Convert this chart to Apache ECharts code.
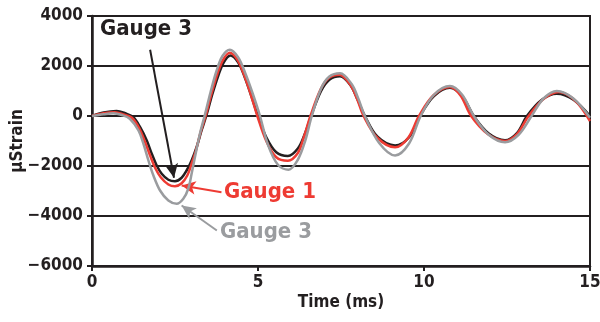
<!DOCTYPE html>
<html>
<head>
<meta charset="utf-8">
<script src="https://cdn.jsdelivr.net/npm/echarts@6/dist/echarts.min.js"></script>
<style>
html,body{margin:0;padding:0;background:#fff;}
#c{width:600px;height:322px;}
</style>
</head>
<body>
<div id="c"></div>
<script>
// ---- data (time in ms, strain in µStrain) ----
const xTicks = [0, 5, 10, 15];
const yTicks = [-6000, -4000, -2000, 0, 2000, 4000];

const blackT = [0, 0.35, 0.74, 1.0, 1.24, 1.45, 1.65, 1.8, 1.95, 2.1, 2.3, 2.5, 2.7, 2.85, 3.0, 3.15, 3.3, 3.45, 3.62, 3.8, 3.97, 4.17, 4.4, 4.6, 4.8, 5.0, 5.25, 5.55, 5.9, 6.2, 6.4, 6.6, 6.9, 7.15, 7.47, 7.8, 8.0, 8.22, 8.6, 9.13, 9.55, 9.88, 10.3, 10.78, 11.15, 11.5, 11.95, 12.44, 12.8, 13.1, 13.55, 14.0, 14.5, 15];
const blackV = [0, 140, 200, 110, -40, -450, -980, -1510, -1980, -2310, -2550, -2610, -2470, -2180, -1780, -1250, -580, 40, 850, 1600, 2150, 2420, 2150, 1550, 800, 0, -850, -1450, -1600, -1300, -750, 0, 1000, 1450, 1590, 1200, 650, 0, -830, -1180, -850, 0, 800, 1130, 800, 0, -700, -970, -680, 0, 650, 890, 650, 0];

const redT = [0, 0.35, 0.69, 0.95, 1.2, 1.43, 1.6, 1.75, 1.9, 2.07, 2.3, 2.5, 2.7, 2.87, 3.0, 3.13, 3.27, 3.43, 3.6, 3.78, 3.95, 4.15, 4.38, 4.58, 4.78, 4.98, 5.25, 5.55, 5.9, 6.2, 6.38, 6.58, 6.88, 7.13, 7.45, 7.78, 7.98, 8.18, 8.6, 9.13, 9.52, 9.85, 10.28, 10.78, 11.1, 11.42, 11.92, 12.44, 12.8, 13.15, 13.6, 14.05, 14.55, 15];
const redV = [0, 110, 150, 60, -70, -510, -1050, -1580, -2070, -2450, -2740, -2810, -2690, -2380, -1910, -1380, -650, 40, 900, 1700, 2250, 2530, 2250, 1650, 870, 0, -1000, -1650, -1790, -1480, -850, 0, 1050, 1520, 1650, 1250, 700, 0, -880, -1250, -880, 0, 820, 1160, 820, 0, -720, -1000, -720, 0, 680, 960, 620, -200];

const grayT = [0, 0.35, 0.64, 0.9, 1.14, 1.4, 1.55, 1.7, 1.85, 2.05, 2.3, 2.55, 2.75, 2.9, 3.0, 3.1, 3.25, 3.4, 3.57, 3.75, 3.93, 4.15, 4.4, 4.62, 4.84, 5.06, 5.3, 5.6, 5.92, 6.2, 6.42, 6.62, 6.9, 7.15, 7.47, 7.82, 8.02, 8.22, 8.65, 9.13, 9.55, 9.9, 10.3, 10.78, 11.15, 11.5, 11.95, 12.44, 12.85, 13.24, 13.6, 14.0, 14.5, 15];
const grayV = [0, 70, 110, 40, -110, -580, -1110, -1780, -2380, -2980, -3380, -3510, -3310, -2910, -2310, -1650, -710, 50, 950, 1800, 2400, 2650, 2350, 1700, 900, 0, -1150, -1950, -2150, -1750, -1000, 0, 1100, 1580, 1710, 1280, 700, 0, -1080, -1580, -1100, 0, 850, 1200, 850, 0, -750, -1050, -750, 0, 700, 1000, 700, -70];

const FONT = '"DejaVu Sans Condensed", "DejaVu Sans", sans-serif';
const INK = '#231f20';
const RED = '#ee3b33';
const GRAY = '#9a9c9f';

function pairs(t, v) { return t.map((x, i) => [x, v[i]]); }
function fmt(v) { return v < 0 ? '\u2212' + Math.abs(v) : String(v); }

const chart = echarts.init(document.getElementById('c'), null, {renderer: 'canvas'});

function arrow(color, from, to) {
  return {
    silent: true,
    symbol: ['none', 'arrow'],
    symbolSize: [10, 14],
    lineStyle: {color: color, width: 2, type: 'solid'},
    label: {show: false},
    emphasis: {disabled: true},
    data: [[{coord: from}, {coord: to}]]
  };
}

chart.setOption({
  animation: false,
  grid: {left: 92, right: 10, top: 16, bottom: 56, outerBoundsMode: 'none', containLabel: false,
    show: true, borderColor: INK, borderWidth: 2},
  xAxis: {
    type: 'value', min: 0, max: 15, interval: 5,
    name: 'Time (ms)', nameLocation: 'middle', nameGap: 28, nameMoveOverlap: false,
    nameTextStyle: {fontFamily: FONT, fontWeight: 'bold', fontSize: 17, color: INK},
    axisLine: {show: true, onZero: false, lineStyle: {color: INK, width: 2.5}},
    axisTick: {show: true, length: 5, lineStyle: {color: INK, width: 2}},
    axisLabel: {fontFamily: FONT, fontWeight: 'bold', fontSize: 17, color: INK, margin: 8,
      formatter: v => xTicks.includes(v) ? String(v) : ''},
    splitLine: {show: false}
  },
  yAxis: {
    type: 'value', min: -6000, max: 4000, interval: 2000,
    name: '\u03bcStrain', nameLocation: 'middle', nameGap: 66, nameMoveOverlap: false,
    nameTextStyle: {fontFamily: FONT, fontWeight: 'bold', fontSize: 17, color: INK},
    axisLine: {show: true, onZero: false, lineStyle: {color: INK, width: 2.5}},
    axisTick: {show: true, length: 5, lineStyle: {color: INK, width: 2}},
    axisLabel: {fontFamily: FONT, fontWeight: 'bold', fontSize: 17, color: INK, margin: 9,
      formatter: v => yTicks.includes(v) ? fmt(v) : ''},
    splitLine: {show: true, lineStyle: {color: INK, width: 2}}
  },
  series: [
    {name: 'Gauge 3 (black)', type: 'line', data: pairs(blackT, blackV), smooth: 0.35, showSymbol: false,
      lineStyle: {color: INK, width: 2.5}, z: 3,
      markLine: arrow(INK, [1.75, 2650], [2.47, -2470])},
    {name: 'Gauge 1', type: 'line', data: pairs(redT, redV), smooth: 0.35, showSymbol: false,
      lineStyle: {color: RED, width: 2.5}, z: 4,
      markLine: arrow(RED, [3.9, -3050], [2.7, -2780])},
    {name: 'Gauge 3', type: 'line', data: pairs(grayT, grayV), smooth: 0.35, showSymbol: false,
      lineStyle: {color: GRAY, width: 2.5}, z: 5,
      markLine: arrow(GRAY, [3.76, -4580], [2.7, -3580])}
  ],
  graphic: [
    {type: 'text', left: 100, top: 18, z: 10, style: {text: 'Gauge 3', fill: INK, font: 'bold 22px ' + FONT}},
    {type: 'text', left: 224, top: 181, z: 10, style: {text: 'Gauge 1', fill: RED, font: 'bold 22px ' + FONT}},
    {type: 'text', left: 220, top: 221, z: 10, style: {text: 'Gauge 3', fill: GRAY, font: 'bold 22px ' + FONT}}
  ]
});
</script>
</body>
</html>
